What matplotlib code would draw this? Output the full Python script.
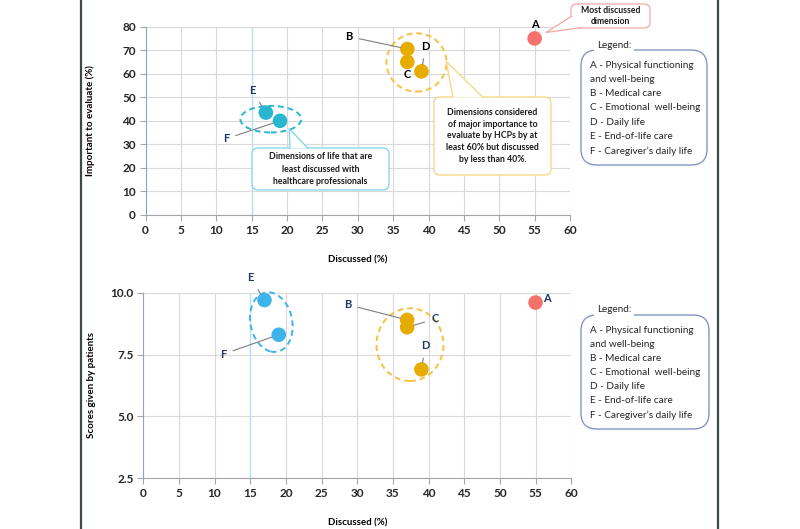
import matplotlib.pyplot as plt
from matplotlib import font_manager
from matplotlib.patches import Ellipse, FancyBboxPatch, Polygon
from matplotlib.lines import Line2D
from matplotlib.transforms import IdentityTransform

# values
dims = ['A', 'B', 'C', 'D', 'E', 'F']
discussed = [55, 37, 37, 39, 17, 19]
important = [75, 70.5, 65, 61, 43.5, 40]
scores = [9.6, 8.9, 8.6, 6.9, 9.7, 8.3]

legend_lines = [
    'A - Physical functioning',
    'and well-being',
    'B - Medical care',
    'C - Emotional  well-being',
    'D - Daily life',
    'E - End-of-life care',
    'F - Caregiver\u2019s daily life',
]

x_ticks = list(range(0, 61, 5))
top_y_ticks = list(range(0, 81, 10))
bottom_y_ticks = [2.5, 5.0, 7.5, 10.0]

RED = '#F4726B'
GOLD = '#E6AC00'
TEAL = '#29B6D1'
BLUE = '#3DB5EA'
NAVY = '#1F3864'

top_colors = [RED, GOLD, GOLD, GOLD, TEAL, TEAL]
bottom_colors = [RED, GOLD, GOLD, GOLD, BLUE, BLUE]

# label offsets in points: (dx, dy, draw connector)
top_offsets = [(0, 10, False), (-42, 9, True), (0, -9, False), (3, 18, True),
               (-10, 16, True), (-39, -13, True)]
top_label_colors = ['black', 'black', 'black', 'black', NAVY, NAVY]
bottom_offsets = [(8, 3, False), (-43, 11, True), (20, 6, True), (3, 17, True),
                  (-10, 16, True), (-40, -14, True)]

plt.rcParams['font.family'] = ['Lato', 'DejaVu Sans']

# narrower face for the legend text if it is there (closer to Calibri widths)
installed = {f.name for f in font_manager.fontManager.ttflist}
if 'Liberation Sans Narrow' in installed:
    LEG_FONT, LEG_SIZE = ['Liberation Sans Narrow', 'DejaVu Sans'], 8.4
else:
    LEG_FONT, LEG_SIZE = ['Lato', 'DejaVu Sans'], 7.2

W, H = 800, 529
fig = plt.figure(figsize=(8, 5.29), dpi=100)
fig.patch.set_facecolor('white')
PX = IdentityTransform()


def px(x, y):
    # picture pixel (from top-left) -> display coords
    return x, H - y


def style_axes(ax, yticks, ylim, ylabel, yfmt, ylab_x):
    ax.set_xlim(0, 60)
    ax.set_ylim(*ylim)
    ax.set_xticks(x_ticks)
    ax.set_yticks(yticks)
    ax.set_yticklabels([yfmt.format(v) for v in yticks])
    ax.grid(True, color='#D9D9D9', linewidth=0.8)
    ax.set_axisbelow(True)
    ax.axvline(15, color='#B5E3F0', linewidth=1.0, zorder=1)
    for s in ['top', 'right']:
        ax.spines[s].set_visible(False)
    ax.spines['left'].set_color('#8FA3C8')
    ax.spines['bottom'].set_color('#A6A6A6')
    ax.tick_params(axis='both', labelsize=8.5, length=4, color='#A6A6A6', pad=3)
    for lab in ax.get_xticklabels() + ax.get_yticklabels():
        lab.set_fontweight('bold')
        lab.set_color('#262626')
    ax.set_xlabel('Discussed (%)', fontsize=7, fontweight='bold', labelpad=14)
    ax.set_ylabel(ylabel, fontsize=7, fontweight='bold')
    ax.yaxis.set_label_coords(ylab_x, 0.5)


def label_points(ax, ys, offsets, colors):
    for name, x, y, (dx, dy, line), c in zip(dims, discussed, ys, offsets, colors):
        props = None
        if line:
            props = dict(arrowstyle='-', color='#7F7F7F', lw=0.8, shrinkA=3, shrinkB=5)
        ax.annotate(name, (x, y), xytext=(dx, dy), textcoords='offset points',
                    ha='center', va='center', fontsize=8, fontweight='bold',
                    color=c, arrowprops=props, zorder=4)


def legend_box(x0, y0, x1, y1, first_y, step):
    fig.add_artist(FancyBboxPatch(px(x0, y1), x1 - x0, y1 - y0,
                                  boxstyle='round,pad=0,rounding_size=16',
                                  transform=PX, fc='white', ec='#8497C0', lw=1.0))
    for i, line in enumerate(legend_lines):
        fig.text(*px(x0 + 9.5, first_y + i * step), line, transform=PX,
                 fontsize=LEG_SIZE, family=LEG_FONT,
                 color='#262626', va='center', ha='left')
    fig.text(*px(x0 + 16, y0 - 5), 'Legend:', transform=PX, fontsize=LEG_SIZE,
             family=LEG_FONT, color='#262626', va='center', ha='left',
             bbox=dict(boxstyle='square,pad=0.3', fc='white', ec='none'))
    fig.add_artist(Line2D([x0 + 16, x0 + 50], [H - (y0 + 0.5)] * 2, transform=PX,
                          color='#262626', lw=0.6))


def callout(ax, text, tip, box, base, color, fs, ls):
    # speech-bubble box (pixel coords) with a tail pointing at a data location
    x0, y0, x1, y1 = box
    fig.add_artist(FancyBboxPatch(px(x0, y1), x1 - x0, y1 - y0,
                                  boxstyle='round,pad=0,rounding_size=6',
                                  transform=PX, fc='white', ec=color, lw=0.9, zorder=5))
    tx, ty = ax.transData.transform(tip)
    (bx1, by1), (bx2, by2) = base
    fig.add_artist(Polygon([px(bx1, by1), (tx, ty), px(bx2, by2)], closed=False,
                           transform=PX, fc='white', ec=color, lw=0.9, zorder=6))
    fig.text(*px((x0 + x1) / 2, (y0 + y1) / 2), text, transform=PX, ha='center',
             va='center', fontsize=fs, fontweight='bold', linespacing=ls,
             color='#1A1A1A', zorder=7)


# ---------------- top chart ----------------
ax1 = fig.add_axes([0.182, 0.5936, 0.5305, 0.356])
style_axes(ax1, top_y_ticks, (0, 80), 'Important to evaluate (%)', '{:.0f}', -0.12)
ax1.scatter(discussed, important, s=110, c=top_colors, zorder=3, edgecolors='none')
label_points(ax1, important, top_offsets, top_label_colors)
ax1.add_patch(Ellipse((17.7, 40.7), 8.6, 11.3, fill=False, ec=TEAL, ls=(0, (3, 2)),
                      lw=1.4, zorder=2))
ax1.add_patch(Ellipse((38.3, 64.8), 8.5, 24.8, fill=False, ec='#F5C242', ls=(0, (3, 2)),
                      lw=1.4, zorder=2))

callout(ax1, 'Most discussed\ndimension', (56.6, 77.5), (571, 4, 650, 28),
        [(572, 16), (582, 27.5)], '#F4A6A6', 6.2, 1.3)
callout(ax1, 'Dimensions of life that are\nleast discussed with\nhealthcare professionals',
        (20.3, 36.7), (252, 148, 389, 190), [(290, 148.5), (308, 148.5)],
        '#7FD3E6', 6.3, 1.45)
callout(ax1, 'Dimensions considered\nof major importance to\nevaluate by HCPs by at\n'
        'least 60% but discussed\nby less than 40%.',
        (42.5, 65.2), (434, 97, 551, 175), [(453, 97.5), (483, 97.5)],
        '#F7D57E', 6.3, 1.42)

legend_box(581, 50, 707, 165, 65, 14.3)

# ---------------- bottom chart ----------------
ax2 = fig.add_axes([0.179, 0.0958, 0.535, 0.351])
style_axes(ax2, bottom_y_ticks, (2.5, 10.0), 'Scores given by patients', '{:.1f}', -0.11)
ax2.scatter(discussed, scores, s=110, c=bottom_colors, zorder=3, edgecolors='none',
            clip_on=False)
label_points(ax2, scores, bottom_offsets, [NAVY] * 6)
ax2.add_patch(Ellipse((17.96, 8.81), 6.0, 2.38, angle=-4, fill=False, ec=BLUE,
                      ls=(0, (3, 2)), lw=1.4, zorder=2, clip_on=False))
ax2.add_patch(Ellipse((37.4, 7.9), 9.4, 2.94, fill=False, ec='#F5C242',
                      ls=(0, (3, 2)), lw=1.4, zorder=2))

legend_box(581, 315, 709, 429, 330.7, 14.05)

# page frame lines
for xp in (81, 718):
    fig.add_artist(Line2D([xp / W] * 2, [0, 1], color='#3A4A4A', lw=1.6))

fig.savefig('out.png', dpi=100)
